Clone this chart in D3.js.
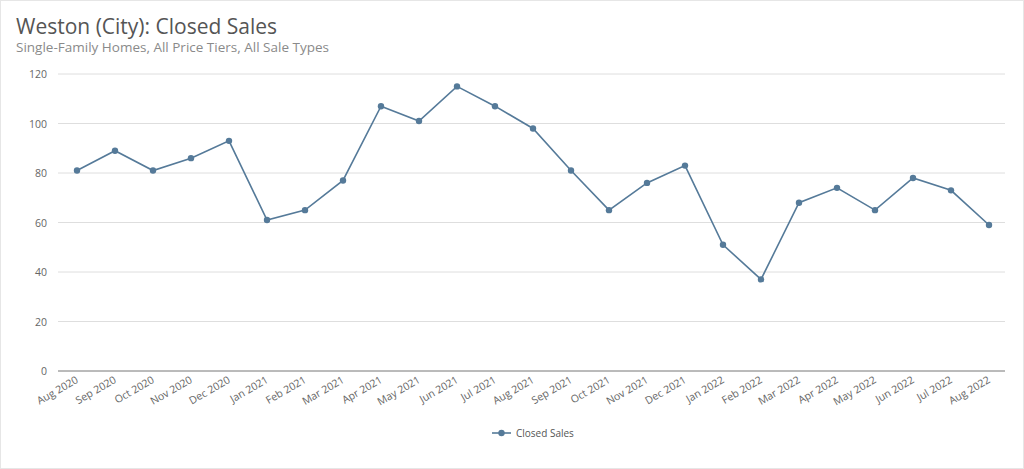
<!DOCTYPE html><html><head><meta charset="utf-8"><script src="https://cdn.jsdelivr.net/npm/d3@7"></script>
<style>body{margin:0;background:#fff}svg{display:block;font-family:"Open Sans",sans-serif}</style></head><body><svg width="1024" height="469"></svg><script>
const months=["Aug 2020","Sep 2020","Oct 2020","Nov 2020","Dec 2020","Jan 2021","Feb 2021","Mar 2021","Apr 2021","May 2021","Jun 2021","Jul 2021","Aug 2021","Sep 2021","Oct 2021","Nov 2021","Dec 2021","Jan 2022","Feb 2022","Mar 2022","Apr 2022","May 2022","Jun 2022","Jul 2022","Aug 2022"];
const closedSales=[81,89,81,86,93,61,65,77,107,101,115,107,98,81,65,76,83,51,37,68,74,65,78,73,59];
const yTicks=[0,20,40,60,80,100,120];
const svg=d3.select("svg");
svg.append("rect").attr("x",0.5).attr("y",0.5).attr("width",1023).attr("height",468).attr("fill","none").attr("stroke","#e6e6e6");
svg.append("text").attr("x",16).attr("y",34).attr("font-size",21).attr("fill","#555").text("Weston (City): Closed Sales");
svg.append("text").attr("x",16).attr("y",52).attr("font-size",13.5).attr("fill","#8a8a8a").text("Single-Family Homes, All Price Tiers, All Sale Types");
const x=d3.scalePoint().domain(months).range([77,989]);
const y=d3.scaleLinear().domain([0,120]).range([371,74]);
const g=svg.append("g");
yTicks.forEach(t=>{
 g.append("line").attr("x1",58).attr("x2",1005).attr("y1",y(t)).attr("y2",y(t)).attr("stroke",t===0?"#777":"#dedede").attr("stroke-width",1);
 g.append("text").attr("x",47).attr("y",y(t)+4).attr("text-anchor","end").attr("font-size",10.5).attr("fill","#666").text(t);
});
months.forEach(m=>{
 g.append("text").attr("transform",`translate(${x(m)+2},${382}) rotate(-30)`).attr("text-anchor","end").attr("font-size",10.5).attr("fill","#666").text(m);
});
const col="#557a99";
g.append("path").datum(closedSales).attr("fill","none").attr("stroke",col).attr("stroke-width",1.6)
 .attr("d",d3.line().x((d,i)=>x(months[i])).y(d=>y(d)));
g.selectAll("circle.p").data(closedSales).join("circle").attr("cx",(d,i)=>x(months[i])).attr("cy",d=>y(d)).attr("r",3.2).attr("fill",col);
const lg=svg.append("g");
lg.append("line").attr("x1",492).attr("x2",511).attr("y1",433).attr("y2",433).attr("stroke",col).attr("stroke-width",1.6);
lg.append("circle").attr("cx",501.5).attr("cy",433).attr("r",3.2).attr("fill",col);
lg.append("text").attr("x",516).attr("y",436.5).attr("font-size",10).attr("fill","#555").text("Closed Sales");
</script></body></html>
